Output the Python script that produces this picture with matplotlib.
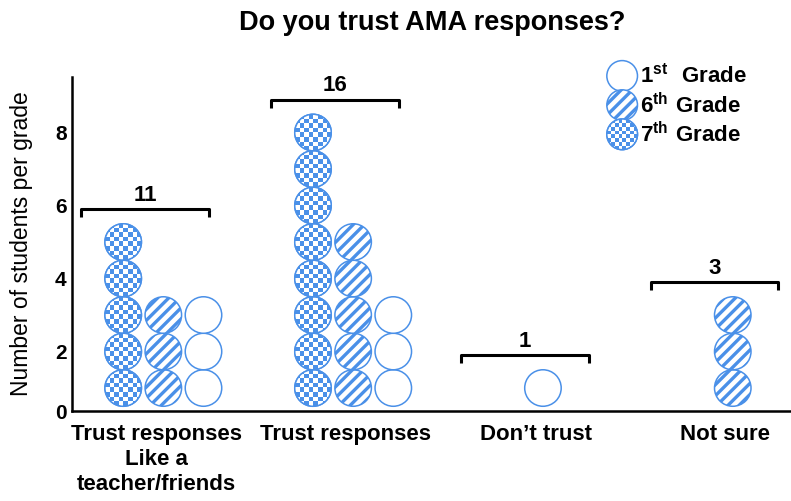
import numpy as np
import matplotlib
matplotlib.use("Agg")
import matplotlib.pyplot as plt
from matplotlib.patches import Circle
from matplotlib.transforms import blended_transform_factory

plt.rcParams['font.family'] = ['Liberation Sans', 'DejaVu Sans']
plt.rcParams['mathtext.fontset'] = 'custom'
plt.rcParams['mathtext.bf'] = 'Liberation Sans:bold'
plt.rcParams['mathtext.rm'] = 'Liberation Sans'
plt.rcParams['hatch.linewidth'] = 2.4

# Data
categories = ['Trust responses\nLike a\nteacher/friends', 'Trust responses',
              'Don\u2019t trust', 'Not sure']
grades = ['7th', '6th', '1st']
counts_7th = [5, 8, 0, 0]
counts_6th = [3, 5, 0, 3]
counts_1st = [3, 3, 1, 0]
legend_labels = [r'$\mathbf{1^{st}\ \ Grade}$', r'$\mathbf{6^{th}\ Grade}$',
                 r'$\mathbf{7^{th}\ Grade}$']
yticks = [2, 4, 6, 8]

blue = '#4a90e8'
R = 0.5          # circle radius in count units
col_gap = 1.1    # distance between grade columns
cat_step = 5.2

fig = plt.figure(figsize=(7.91, 5.01), dpi=100)
ax = fig.add_axes([0.091, 0.1796, 0.908, 0.6667])
ybot = 0.37
ax.set_ylim(ybot, ybot + 334 / 36.5)
ax.set_xlim(0, 718 / 36.5)
ax.set_aspect('equal')

checker = (np.indices((8, 8)).sum(axis=0) % 2).astype(float)
cmap = matplotlib.colors.ListedColormap(['white', blue])


def draw_circle(x, y, grade, r=R, clip=True):
    if grade == '6th':
        c = Circle((x, y), r, facecolor='white', edgecolor=blue, lw=1.1,
                   hatch='///', clip_on=clip)
        ax.add_patch(c)
    elif grade == '7th':
        c = Circle((x, y), r, facecolor='white', edgecolor=blue, lw=1.1,
                   clip_on=clip)
        ax.add_patch(c)
        im = ax.imshow(checker, cmap=cmap, extent=(x - r, x + r, y - r, y + r),
                       interpolation='nearest', zorder=2)
        im.set_clip_path(c)
        ring = Circle((x, y), r, facecolor='none', edgecolor=blue, lw=1.1,
                      zorder=3, clip_on=clip)
        ax.add_patch(ring)
    else:
        c = Circle((x, y), r, facecolor='white', edgecolor=blue, lw=1.1,
                   clip_on=clip)
        ax.add_patch(c)


all_counts = list(zip(counts_7th, counts_6th, counts_1st))
for i, cnts in enumerate(all_counts):
    present = [(g, n) for g, n in zip(grades, cnts) if n > 0]
    colc = 2.5 + cat_step * i
    for j, (g, n) in enumerate(present):
        x = colc + (j - (len(present) - 1) / 2) * col_gap
        for k in range(1, n + 1):
            draw_circle(x, k, g)

    # bracket with total
    bc = 2.0 + cat_step * i
    by = max(cnts) + 0.9
    ax.plot([bc - 1.75, bc - 1.75, bc + 1.75, bc + 1.75],
            [by - 0.22, by, by, by - 0.22], color='black', lw=2.2,
            solid_capstyle='butt', clip_on=False)
    ax.text(bc, by + 0.1, str(sum(cnts)), ha='center', va='bottom',
            fontsize=16, fontweight='bold')

# category labels
trans = blended_transform_factory(ax.transData, ax.transAxes)
for i, cat in enumerate(categories):
    ax.text(2.3 + cat_step * i, -0.04, cat, transform=trans, ha='center',
            va='top', fontsize=16, fontweight='bold', linespacing=1.25)

# legend
for j, (g, lab) in enumerate(zip(['1st', '6th', '7th'], legend_labels)):
    ly = 9.55 - j * 0.8
    draw_circle(15.07, ly, g, r=0.42, clip=False)
    ax.text(15.55, ly, lab, ha='left', va='center', fontsize=16)

ax.set_yticks([ybot] + yticks)
ax.set_yticklabels(['0'] + [str(t) for t in yticks], fontweight='bold',
                   fontsize=15)
ax.tick_params(axis='y', length=0, pad=4)
ax.set_xticks([])
ax.spines['top'].set_visible(False)
ax.spines['right'].set_visible(False)
ax.spines['left'].set_linewidth(1.8)
ax.spines['bottom'].set_linewidth(1.8)
ax.set_ylabel('Number of students per grade', fontsize=16.5)
ax.yaxis.set_label_coords(-0.054, 0.5)

fig.suptitle('Do you trust AMA responses?', x=0.546, y=0.98,
             fontsize=19.5, fontweight='bold')

fig.savefig('out.png', dpi=100)
